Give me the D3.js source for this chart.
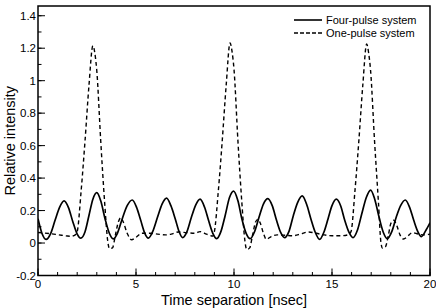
<!DOCTYPE html>
<html><head><meta charset="utf-8">
<script src="https://cdn.jsdelivr.net/npm/d3@7"></script>
<style>body{margin:0;background:#fff;}svg{display:block;font-family:"Liberation Sans",Arial,sans-serif;}</style>
</head><body>
<svg id="c" width="436" height="308"></svg>
<script>
const xTicks = [0, 5, 10, 15, 20];
const yTicks = [-0.2, 0, 0.2, 0.4, 0.6, 0.8, 1, 1.2, 1.4];
const seriesNames = ["Four-pulse system", "One-pulse system"];

const fourT = [0.0,0.2,0.41,0.65,0.87,1.1,1.33,1.55,1.78,2.0,2.18,2.4,2.6,2.8,3.0,3.2,3.42,3.64,3.84,4.05,4.3,4.55,4.81,5.03,5.24,5.45,5.63,5.85,6.1,6.33,6.56,6.78,7.0,7.2,7.38,7.6,7.83,8.05,8.27,8.5,8.7,8.92,9.12,9.33,9.55,9.77,9.98,10.2,10.4,10.62,10.83,11.05,11.28,11.5,11.73,11.95,12.17,12.38,12.58,12.8,13.03,13.25,13.48,13.7,13.92,14.15,14.37,14.58,14.8,15.0,15.22,15.44,15.65,15.87,16.07,16.3,16.52,16.75,16.97,17.18,17.4,17.62,17.82,18.05,18.28,18.5,18.74,18.96,19.17,19.38,19.56,19.8,20.0];
const fourV = [0.15,0.06,0.022,0.06,0.14,0.22,0.26,0.22,0.13,0.055,0.03,0.07,0.17,0.27,0.31,0.26,0.15,0.06,0.025,0.06,0.15,0.23,0.265,0.22,0.14,0.06,0.03,0.07,0.16,0.24,0.277,0.23,0.15,0.07,0.033,0.07,0.16,0.235,0.27,0.22,0.14,0.06,0.027,0.07,0.17,0.28,0.32,0.26,0.15,0.06,0.027,0.07,0.16,0.24,0.273,0.23,0.14,0.065,0.033,0.07,0.17,0.25,0.29,0.24,0.15,0.065,0.022,0.065,0.15,0.23,0.27,0.23,0.14,0.065,0.033,0.08,0.18,0.28,0.326,0.27,0.16,0.065,0.027,0.07,0.16,0.23,0.265,0.22,0.14,0.07,0.04,0.08,0.125];

const oneT = [0.0,0.3,0.6,0.9,1.2,1.5,1.7,1.9,2.0,2.2,2.4,2.6,2.8,2.9,3.0,3.2,3.4,3.55,3.65,3.8,3.95,4.1,4.22,4.35,4.55,4.78,5.0,5.3,5.7,6.1,6.5,6.8,7.16,7.58,8.0,8.27,8.6,8.93,9.0,9.2,9.4,9.6,9.8,9.9,10.0,10.2,10.4,10.55,10.65,10.8,10.95,11.1,11.22,11.35,11.5,11.65,11.9,12.2,12.6,13.0,13.4,13.8,14.2,14.6,15.0,15.5,15.8,15.97,16.17,16.37,16.57,16.77,16.87,16.97,17.17,17.37,17.5,17.58,17.72,17.88,18.0,18.15,18.3,18.47,18.65,18.85,19.1,19.4,19.7,20.0];
const oneV = [0.065,0.062,0.058,0.053,0.048,0.043,0.042,0.05,0.07,0.32,0.63,0.97,1.215,1.17,1.06,0.63,0.25,0.02,-0.035,-0.03,0.05,0.13,0.155,0.13,0.06,0.02,0.035,0.06,0.06,0.055,0.05,0.055,0.068,0.064,0.06,0.07,0.055,0.043,0.07,0.32,0.63,0.97,1.233,1.18,1.07,0.63,0.25,0.02,-0.04,-0.03,0.05,0.13,0.146,0.12,0.06,0.023,0.04,0.05,0.048,0.045,0.055,0.068,0.06,0.05,0.045,0.045,0.05,0.07,0.32,0.63,0.97,1.226,1.17,1.06,0.63,0.25,0.0,-0.032,-0.025,0.05,0.12,0.14,0.11,0.05,0.025,0.04,0.064,0.055,0.05,0.055];

const svg = d3.select("#c");
const L = 38, R = 430, T = 6, B = 275.5;
const x = d3.scaleLinear().domain([0, 20]).range([L, R]);
const y = d3.scaleLinear().domain([-0.2, 1.46]).range([B, T]);

const g = svg.append("g");
g.selectAll(".xm").data(d3.range(0, 21, 1)).join("line")
  .attr("x1", d => x(d)).attr("x2", d => x(d)).attr("y1", B).attr("y2", B - 3.5)
  .attr("stroke", "#000").attr("stroke-width", 1);
g.selectAll(".xM").data(xTicks).join("line")
  .attr("x1", d => x(d)).attr("x2", d => x(d)).attr("y1", B).attr("y2", B - 7)
  .attr("stroke", "#000").attr("stroke-width", 1);
g.selectAll(".ym").data(d3.range(-2, 15, 1).map(d => d / 10)).join("line")
  .attr("x1", L).attr("x2", L + 3.5).attr("y1", d => y(d)).attr("y2", d => y(d))
  .attr("stroke", "#000").attr("stroke-width", 1);
g.selectAll(".yM").data(yTicks).join("line")
  .attr("x1", L).attr("x2", L + 7).attr("y1", d => y(d)).attr("y2", d => y(d))
  .attr("stroke", "#000").attr("stroke-width", 1);

svg.selectAll(".xl").data(xTicks).join("text")
  .attr("x", d => x(d)).attr("y", B + 12.5).attr("text-anchor", "middle")
  .attr("font-size", 11.5).text(d => d);
svg.selectAll(".yl").data(yTicks).join("text")
  .attr("x", L - 2).attr("y", d => y(d) + 4).attr("text-anchor", "end")
  .attr("font-size", 11.5).text(d => d);

const line = d3.line().x(d => x(d[0])).y(d => y(d[1])).curve(d3.curveMonotoneX);
svg.append("clipPath").attr("id", "pc").append("rect")
  .attr("x", L).attr("y", T).attr("width", R - L).attr("height", B - T);
svg.append("path").datum(fourT.map((t, i) => [t, fourV[i]]))
  .attr("d", line).attr("fill", "none").attr("stroke", "#000").attr("stroke-width", 1.7)
  .attr("clip-path", "url(#pc)");
svg.append("path").datum(oneT.map((t, i) => [t, oneV[i]]))
  .attr("d", line).attr("fill", "none").attr("stroke", "#000").attr("stroke-width", 1.4)
  .attr("stroke-dasharray", "4,3").attr("clip-path", "url(#pc)");

svg.append("rect").attr("x", L).attr("y", T).attr("width", R - L).attr("height", B - T)
  .attr("fill", "none").attr("stroke", "#000").attr("stroke-width", 1.5);

const lg = svg.append("g");
[0, 1].forEach(i => {
  const ly = 20 + i * 13;
  lg.append("line").attr("x1", 294).attr("x2", 322).attr("y1", ly).attr("y2", ly)
    .attr("stroke", "#000").attr("stroke-width", i ? 1.4 : 1.6)
    .attr("stroke-dasharray", i ? "4,2" : null);
  lg.append("text").attr("x", 326).attr("y", ly + 4).attr("font-size", 11).text(seriesNames[i]);
});

svg.append("text").attr("x", (L + R) / 2).attr("y", 304.5).attr("text-anchor", "middle")
  .attr("font-size", 14.5).text("Time separation [nsec]");
svg.append("text").attr("transform", `translate(15,${(T + B) / 2}) rotate(-90)`)
  .attr("text-anchor", "middle").attr("font-size", 14.5).text("Relative intensity");
</script>
</body></html>
